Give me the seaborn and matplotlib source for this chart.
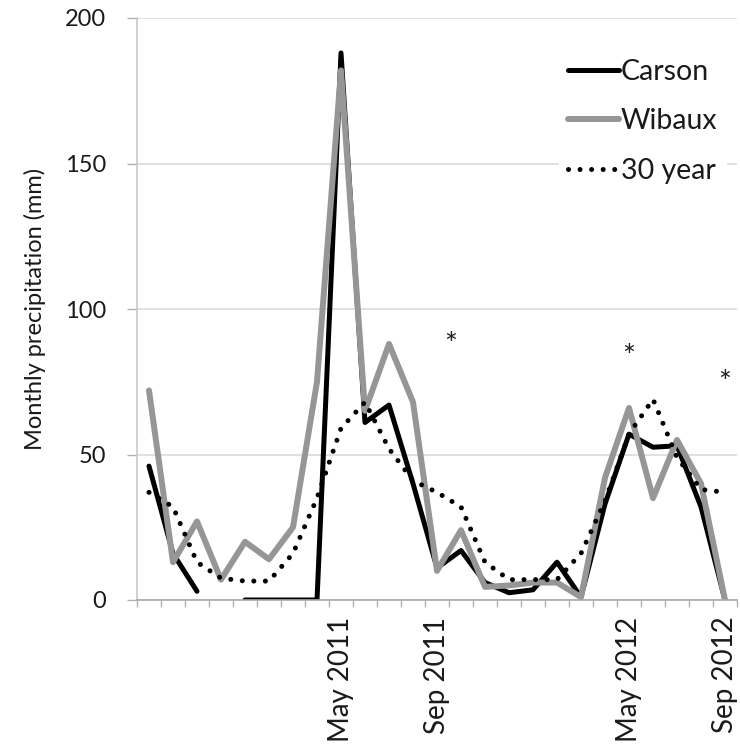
import matplotlib
matplotlib.use('Agg')
import matplotlib.pyplot as plt
import numpy as np
import pandas as pd
import seaborn as sns

# monthly values, Sep 2010 .. Sep 2012
months = pd.date_range('2010-09-01', '2012-09-01', freq='MS')
carson = [46, 16, 3, np.nan, 0, 0, 0, 0, 188, 61, 67, 40, 11, 17, 6, 2.5,
          3.5, 13, 1, 33, 57, 52.5, 53, 32, 0]
wibaux = [72, 13, 27, 7, 20, 14, 25, 75, 182, 65, 88, 68, 10, 24, 4.5, 5,
          6, 6, 1, 42, 66, 35, 55, 40, 0]
thirty_year = [37, 32, 13, 7.5, 6.5, 6.5, 16, 35, 59, 68, 52, 41, 37, 32, 13,
               7, 7, 7, 16, 34, 57, 69, 49, 38, 37]
tick_labels = ['May 2011', 'Sep 2011', 'May 2012', 'Sep 2012']
star_pos = [12.55, 20, 24]
star_val = [89, 85, 76]


def main():
    sns.set_theme(style='white')
    plt.rcParams['font.family'] = ['Lato', 'DejaVu Sans']

    df = pd.DataFrame({
        'idx': np.arange(len(months)),
        'carson': carson,
        'wibaux': wibaux,
        'thirty': thirty_year,
    })
    df['seg'] = df['carson'].isna().cumsum()  # gap where Carson is missing

    fig = plt.figure(figsize=(7.4, 7.49), dpi=100)
    ax = fig.add_axes([137 / 740, 149 / 749, 600 / 740, 582 / 749])

    sns.lineplot(data=df, x='idx', y='carson', units='seg', estimator=None,
                 color='black', lw=3.6, label='Carson', ax=ax,
                 solid_joinstyle='round')
    sns.lineplot(data=df, x='idx', y='wibaux', color='#969696', lw=4.3,
                 label='Wibaux', ax=ax, solid_joinstyle='round')
    sns.lineplot(data=df, x='idx', y='thirty', color='black', lw=3.6,
                 linestyle=(0, (0.01, 2.3)), dash_capstyle='round',
                 label='30 year', ax=ax)

    for x, y in zip(star_pos, star_val):
        ax.text(x, y - 1.5, '*', ha='center', va='center', fontsize=22,
                color='#222222')

    ax.set_xlim(-0.5, len(months) - 0.5)
    ax.set_ylim(0, 200)
    ax.set_yticks([0, 50, 100, 150, 200])

    names = [m.strftime('%b %Y') for m in months]
    ax.set_xticks([names.index(t) for t in tick_labels])
    ax.set_xticklabels(tick_labels, rotation=90, fontsize=20, color='#1a1a1a')
    ax.set_xticks(np.arange(-0.5, len(months), 1), minor=True)
    ax.tick_params(axis='x', which='major', length=0, pad=12)
    ax.tick_params(axis='x', which='minor', length=5, width=1,
                   color='#b0b0b0', direction='out', bottom=True)
    ax.tick_params(axis='y', length=7, width=1, color='#b0b0b0', pad=15,
                   direction='out', left=True, labelsize=17, labelcolor='#1a1a1a')

    ax.yaxis.grid(True, color='#e0e0e0', lw=1.4)
    ax.xaxis.grid(False)
    ax.set_axisbelow(True)
    for side in ('top', 'right'):
        ax.spines[side].set_visible(False)
    ax.spines['left'].set_color('#c8c8c8')
    ax.spines['bottom'].set_color('#a8a8a8')
    ax.spines['left'].set_linewidth(1.2)
    ax.spines['bottom'].set_linewidth(1.2)

    ax.set_xlabel('')
    ax.set_ylabel('Monthly precipitation (mm)', fontsize=17,
                  color='#1a1a1a', labelpad=14)

    handles, labels = ax.get_legend_handles_labels()
    uniq = dict(zip(labels, handles))
    leg = ax.legend(uniq.values(), uniq.keys(), loc='upper left',
                    bbox_to_anchor=(0.704, 0.945), fontsize=20.5,
                    handlelength=1.8, handletextpad=0.05, labelspacing=0.83,
                    frameon=True, framealpha=1, facecolor='white',
                    edgecolor='white', borderpad=0.3, borderaxespad=0)
    for t in leg.get_texts():
        t.set_color('#1a1a1a')

    fig.savefig('out.png', dpi=100)


if __name__ == '__main__':
    main()
